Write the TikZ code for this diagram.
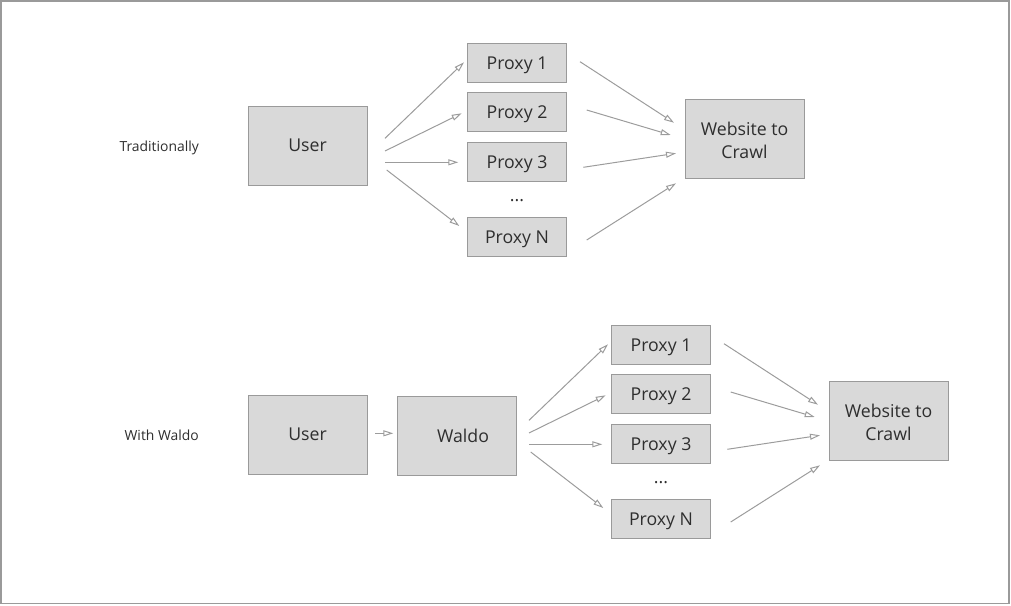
\documentclass[tikz,border=0pt]{standalone}
\usepackage{fontspec}
\setmainfont{Open Sans}
\usetikzlibrary{arrows.meta}
\definecolor{boxfill}{HTML}{D9D9D9}
\definecolor{boxline}{HTML}{9A9A9A}
\definecolor{txt}{HTML}{2E2E2E}
\definecolor{arr}{HTML}{9C9C9C}
\tikzset{
  stepbox/.style={draw=boxline, fill=boxfill, line width=1pt, text=txt, align=center, inner sep=0pt,
    font=\fontsize{17.7}{23}\selectfont},
  proxybox/.style={stepbox, minimum width=99pt, minimum height=39pt, text depth=0pt},
  bigbox/.style={stepbox, minimum width=119pt, minimum height=79pt, text depth=0pt},
  sitebox/.style={bigbox, text height=40pt},
  dots/.style={text=txt, font=\fontsize{17.7}{23}\selectfont, inner sep=0pt},
  lbl/.style={text=txt, font=\fontsize{13.9}{16}\selectfont, anchor=east, inner sep=0pt, text depth=0pt},
  conn/.style={draw=arr, line width=1pt, -{Triangle[open, length=10pt, width=6pt]}},
}
\begin{document}
\begin{tikzpicture}[x=1pt,y=-1pt]
\useasboundingbox (0,0) rectangle (1011,605);
\draw[boxline, line width=1.5pt] (1,1) rectangle (1009,603.5);

% ---------- top: Traditionally ----------
\node[lbl] (lt) at (199,146) {Traditionally};
\node[bigbox] (u1) at (307.5,145.5) {User};
\node[proxybox] (p11) at (517,62.8) {Proxy 1};
\node[proxybox] (p12) at (517,111.7) {Proxy 2};
\node[proxybox] (p13) at (517,161.7) {Proxy 3};
\node[dots] (d1) at (517,200.5) {...};
\node[proxybox] (p1n) at (517,236.7) {Proxy N};
\node[sitebox] (w1) at (744.5,138.5) {Website to\\Crawl};

\foreach \i/\sx/\sy/\ex/\ey in {a/385/138.3/464/62.3, b/385/151/461.7/113.3, c/385/162.3/458.3/162.3, d/386.7/170/459.3/226}{
  \coordinate (us\i) at (\sx,\sy);
  \coordinate (ue\i) at (\ex,\ey);
}
\foreach \i/\sx/\sy/\ex/\ey in {a/580/61.7/674/122.7, b/586.7/110/670.7/135, c/583.3/167.3/676/153.3, d/586.7/240/676/183.3}{
  \coordinate (ps\i) at (\sx,\sy);
  \coordinate (pe\i) at (\ex,\ey);
}
\foreach \i in {a,b,c,d}{
  \draw[conn] (us\i) -- (ue\i);
  \draw[conn] (ps\i) -- (pe\i);
}

% ---------- bottom: With Waldo ----------
\node[lbl] (lb) at (199,435) {With Waldo};
\node[bigbox] (u2) at (307.5,434.5) {User};
\node[bigbox] (wa) at (457,435.5) {\hspace*{12pt}Waldo};
\node[proxybox] (p21) at (661,344.8) {Proxy 1};
\node[proxybox] (p22) at (661,393.7) {Proxy 2};
\node[proxybox] (p23) at (661,443.7) {Proxy 3};
\node[dots] (d2) at (661,482.5) {...};
\node[proxybox] (p2n) at (661,518.7) {Proxy N};
\node[sitebox] (w2) at (888.5,420.5) {Website to\\Crawl};

\coordinate (uws) at (375,433.3);
\coordinate (uwe) at (393.3,433.3);
\draw[conn] (uws) -- (uwe);

\foreach \i/\sx/\sy/\ex/\ey in {a/529/420.3/608/344.3, b/529/433/605.7/395.3, c/529/444.3/602.3/444.3, d/530.7/452/603.3/508}{
  \coordinate (vs\i) at (\sx,\sy);
  \coordinate (ve\i) at (\ex,\ey);
}
\foreach \i/\sx/\sy/\ex/\ey in {a/724/343.7/818/404.7, b/730.7/392/814.7/417, c/727.3/449.3/820/435.3, d/730.7/522/820/465.3}{
  \coordinate (qs\i) at (\sx,\sy);
  \coordinate (qe\i) at (\ex,\ey);
}
\foreach \i in {a,b,c,d}{
  \draw[conn] (vs\i) -- (ve\i);
  \draw[conn] (qs\i) -- (qe\i);
}
\end{tikzpicture}
\end{document}
